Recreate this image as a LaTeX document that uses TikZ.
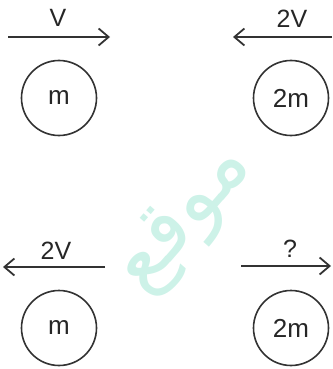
\documentclass[tikz,border=0pt]{standalone}
\usepackage{fontspec}
\setmainfont{Liberation Sans}
\newfontfamily\arabicfont[Script=Arabic]{DejaVu Sans}
\TeXXeTstate=1
\usetikzlibrary{arrows.meta}
\definecolor{wm}{HTML}{CDF2E8}
\tikzset{
  ball/.style={circle,draw=black!80,line width=1.6pt,minimum size=75pt,inner sep=0pt,font=\fontsize{26}{26}\selectfont,text=black!85},
  vel/.style={draw=black!80,line width=2.3pt,-{Straight Barb[length=10pt,width=17pt,line width=1.8pt]}},
  lab/.style={font=\fontsize{25}{25}\selectfont,text=black!85},
}
\begin{document}
\begin{tikzpicture}[x=1pt,y=-1pt]
\useasboundingbox (0,0) rectangle (332,369);
% watermark
\node[text=wm,rotate=49,font=\arabicfont\fontsize{82}{82}\selectfont] (wm) at (186,220) {\beginR موقع\endR};
% top left
\node[ball] (b1) at (59,98) {m};
\coordinate (a1s) at (8,37);
\coordinate (a1e) at (110,37);
\draw[vel] (a1s) -- (a1e);
\node[lab] (l1) at (58,18) {V};
% top right
\node[ball] (b2) at (291,98) {2m};
\coordinate (a2s) at (332,37);
\coordinate (a2e) at (233,37);
\draw[vel] (a2s) -- (a2e);
\node[lab] (l2) at (292,19) {2V};
% bottom left
\node[ball] (b3) at (59,328) {m};
\coordinate (a3s) at (105,267);
\coordinate (a3e) at (3,267);
\draw[vel] (a3s) -- (a3e);
\node[lab] (l3) at (56,251) {2V};
% bottom right
\node[ball] (b4) at (291,328) {2m};
\coordinate (a4s) at (241,266);
\coordinate (a4e) at (331,266);
\draw[vel] (a4s) -- (a4e);
\node[lab] (l4) at (290,249) {?};
\end{tikzpicture}
\end{document}
